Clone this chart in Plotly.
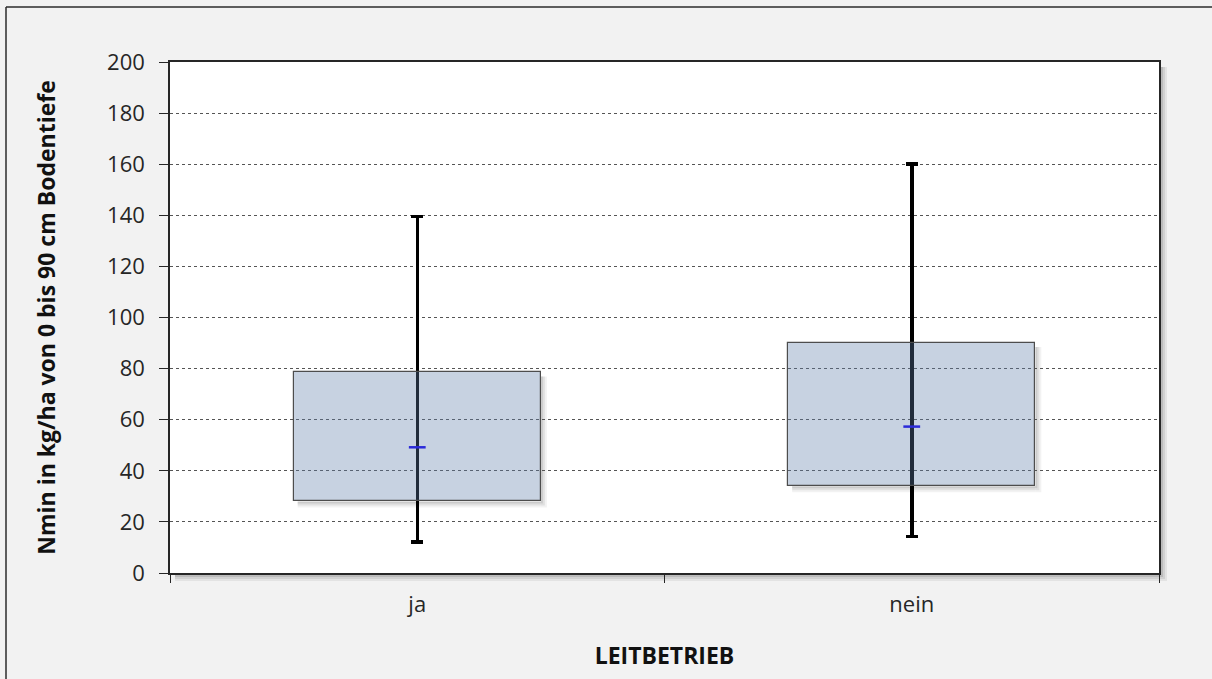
import plotly.graph_objects as go

# Nmin summary per group (kg/ha, 0-90 cm soil depth)
categories = ["ja", "nein"]
q1_values = [28.0, 34.0]
q3_values = [78.5, 90.0]
median_values = [49.2, 57.3]
min_values = [12.1, 14.2]
max_values = [139.5, 160.1]

y_tick_values = list(range(0, 201, 20))

W, H = 1212, 679
ML, MR, MT, MB = 170, 53, 62, 106
PW, PH = W - ML - MR, H - MT - MB
FONT = "Open Sans"

fig = go.Figure()

# whiskers (drawn first so the boxes sit on top of them)
fig.add_trace(go.Bar(
    x=categories, y=median_values, width=0.5,
    marker=dict(color="rgba(0,0,0,0)", line=dict(width=0)),
    error_y=dict(
        type="data", symmetric=False,
        array=[mx - md for mx, md in zip(max_values, median_values)],
        arrayminus=[md - mn for md, mn in zip(median_values, min_values)],
        color="black", thickness=3.5, width=6,
    ),
    hoverinfo="skip", showlegend=False,
))

# interquartile boxes
fig.add_trace(go.Bar(
    x=categories, base=q1_values,
    y=[hi - lo for hi, lo in zip(q3_values, q1_values)],
    width=0.5,
    marker=dict(color="rgba(95,126,169,0.35)", line=dict(color="#4d4d4d", width=1.2)),
    showlegend=False,
))

# medians
fig.add_trace(go.Scatter(
    x=categories, y=median_values, mode="markers",
    marker=dict(symbol="line-ew", size=12, line=dict(color="#2b2bd9", width=2.5)),
    showlegend=False,
))

shapes = []
px_x = 2.0 / PW          # one pixel in category units
px_y = 200.0 / PH        # one pixel in y units

# soft shadows to the right of and below each box
for i, (lo, hi) in enumerate(zip(q1_values, q3_values)):
    for k, op in [(6, 0.05), (4, 0.07), (2, 0.09)]:
        shapes.append(dict(type="rect", xref="x", yref="y", layer="below",
                           x0=i + 0.25, x1=i + 0.25 + k * px_x,
                           y0=lo - k * px_y, y1=hi - 4 * px_y,
                           fillcolor=f"rgba(0,0,0,{op})", line=dict(width=0)))
        shapes.append(dict(type="rect", xref="x", yref="y", layer="below",
                           x0=i - 0.25 + 4 * px_x, x1=i + 0.25,
                           y0=lo - k * px_y, y1=lo,
                           fillcolor=f"rgba(0,0,0,{op})", line=dict(width=0)))

# shadow of the plot area
for k, op in [(8, 0.06), (6, 0.08), (4, 0.10), (2, 0.14)]:
    shapes.append(dict(type="rect", xref="paper", yref="paper", layer="below",
                       x0=1, x1=1 + k / PW, y0=-k / PH, y1=1 - 5 / PH,
                       fillcolor=f"rgba(0,0,0,{op})", line=dict(width=0)))
    shapes.append(dict(type="rect", xref="paper", yref="paper", layer="below",
                       x0=5 / PW, x1=1, y0=-k / PH, y1=0,
                       fillcolor=f"rgba(0,0,0,{op})", line=dict(width=0)))

# outer chart frame (left and top edges)
fx = (6 - ML) / PW
fy = (H - MB - 7) / PH
shapes.append(dict(type="line", xref="paper", yref="paper", x0=fx, x1=fx,
                   y0=-MB / PH - 0.1, y1=fy, line=dict(color="#2b2b2b", width=1.5)))
shapes.append(dict(type="line", xref="paper", yref="paper", x0=fx, x1=(W - ML) / PW + 0.1,
                   y0=fy, y1=fy, line=dict(color="#2b2b2b", width=1.5)))

fig.update_layout(
    width=W, height=H,
    margin=dict(l=ML, r=MR, t=MT, b=MB, autoexpand=False),
    paper_bgcolor="#f2f2f2", plot_bgcolor="white",
    barmode="overlay", bargap=0,
    font=dict(family=FONT, size=22, color="#262626"),
    shapes=shapes,
    xaxis=dict(
        type="category", range=[-0.5, 1.5], tickson="boundaries",
        ticks="outside", ticklen=8, tickcolor="#262626", tickwidth=1,
        showline=True, linecolor="#262626", linewidth=1.5, mirror=True,
        showgrid=False, ticklabelstandoff=11,
        title=dict(text="<b>LEITBETRIEB</b>", font=dict(size=23, color="#111"), standoff=31),
    ),
    yaxis=dict(
        range=[0, 200], tickvals=y_tick_values,
        ticks="outside", ticklen=9, tickcolor="#262626", tickwidth=1,
        showline=True, linecolor="#262626", linewidth=1.5, mirror=True,
        showgrid=True, gridcolor="#555555", griddash="dot", gridwidth=1,
        zeroline=False, ticklabelstandoff=10,
        title=dict(text="<b>Nmin in kg/ha von 0 bis 90 cm Bodentiefe</b>",
                   font=dict(size=23, color="#111"), standoff=45),
    ),
)

fig.write_html("out.html")
